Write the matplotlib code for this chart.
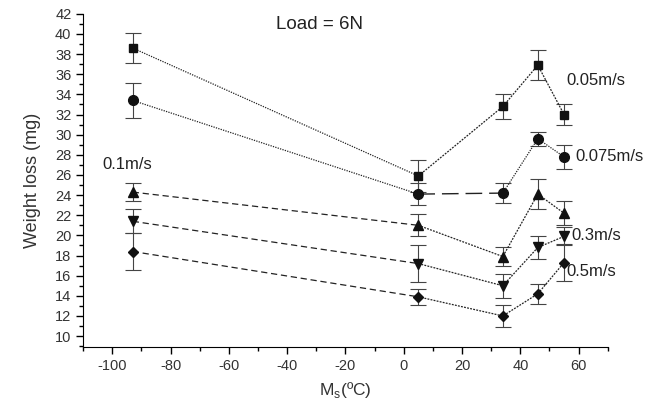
import numpy as np
import matplotlib.pyplot as plt
from matplotlib.ticker import MultipleLocator

plt.rcParams['font.family'] = ['Liberation Sans', 'DejaVu Sans']
plt.rcParams['axes.unicode_minus'] = False

# Ms temperatures (deg C)
ms = [-93, 5, 34, 46, 55]

# weight loss (mg) per sliding speed
wl_005 = [38.6, 25.9, 32.8, 36.9, 32.0]
wl_0075 = [33.4, 24.1, 24.2, 29.6, 27.8]
wl_01 = [24.3, 21.0, 17.9, 24.1, 22.2]
wl_03 = [21.4, 17.2, 15.0, 18.8, 19.9]
wl_05 = [18.4, 13.9, 12.0, 14.2, 17.3]

err_005 = [1.5, 1.6, 1.2, 1.5, 1.0]
err_0075 = [1.7, 1.1, 1.0, 0.7, 1.2]
err_01 = [0.9, 1.1, 0.9, 1.5, 1.2]
err_03 = [1.2, 1.8, 1.2, 1.1, 0.9]
err_05 = [1.8, 0.8, 1.1, 1.0, 1.8]

labels = ['0.05m/s', '0.075m/s', '0.1m/s', '0.3m/s', '0.5m/s']

series = [wl_005, wl_0075, wl_01, wl_03, wl_05]
errs = [err_005, err_0075, err_01, err_03, err_05]
markers = ['s', 'o', '^', 'v', 'D']
msizes = [6, 7, 7, 7, 5.5]
first_style = [(0, (1, 1)), (0, (1, 1)), (0, (5, 3)), (0, (5, 3)), (0, (5, 3))]

fig = plt.figure(figsize=(6.5, 4.07), dpi=100)
ax = fig.add_axes([0.128, 0.147, 0.807, 0.819])

for i in range(len(series)):
    y = series[i]
    ax.errorbar(ms, y, yerr=errs[i], fmt='none', ecolor='#444444',
                elinewidth=0.8, capsize=6, capthick=0.8, zorder=2)
    # first segment
    ax.plot(ms[:2], y[:2], color='#222222', lw=0.9, linestyle=first_style[i], zorder=3)
    # remaining segments
    if i == 1:
        ax.plot(ms[1:3], y[1:3], color='#222222', lw=1.0, linestyle=(0, (12, 5)), zorder=3)
        ax.plot(ms[2:], y[2:], color='#222222', lw=0.9, linestyle=(0, (1, 1)), zorder=3)
    else:
        ax.plot(ms[1:], y[1:], color='#222222', lw=0.9, linestyle=(0, (1.5, 1)), zorder=3)
    ax.plot(ms, y, linestyle='none', marker=markers[i], ms=msizes[i],
            color='#111111', zorder=4)

txt = dict(fontsize=12, color='#222222')
ax.text(-44, 40.9, 'Load = 6N', ha='left', va='center', fontsize=13.5, color='#222222')
ax.text(55.8, 35.4, labels[0], ha='left', va='center', **txt)
ax.text(58.9, 27.8, labels[1], ha='left', va='center', **txt)
ax.text(-103.5, 27.0, labels[2], ha='left', va='center', **txt)
ax.text(57.5, 20.0, labels[3], ha='left', va='center', **txt)
ax.text(55.8, 16.45, labels[4], ha='left', va='center', **txt)

ax.set_xlim(-110, 70)
ax.set_ylim(8.9, 42)
ax.xaxis.set_minor_locator(MultipleLocator(10))
ax.yaxis.set_minor_locator(MultipleLocator(1))
ax.set_xticks([-100, -80, -60, -40, -20, 0, 20, 40, 60])
ax.set_yticks(np.arange(10, 43, 2))
ax.tick_params(which='major', direction='out', length=5, width=1, labelsize=10.5, labelcolor='#333333')
ax.tick_params(which='minor', direction='out', length=3, width=1)
ax.spines['top'].set_visible(False)
ax.spines['right'].set_visible(False)
ax.set_xlabel('M$_\\mathregular{s}$(ºC)', fontsize=12.5, color='#333333', labelpad=5)
ax.set_ylabel('Weight loss (mg)', fontsize=13, color='#333333', labelpad=10)

plt.savefig('out.png', dpi=100)
